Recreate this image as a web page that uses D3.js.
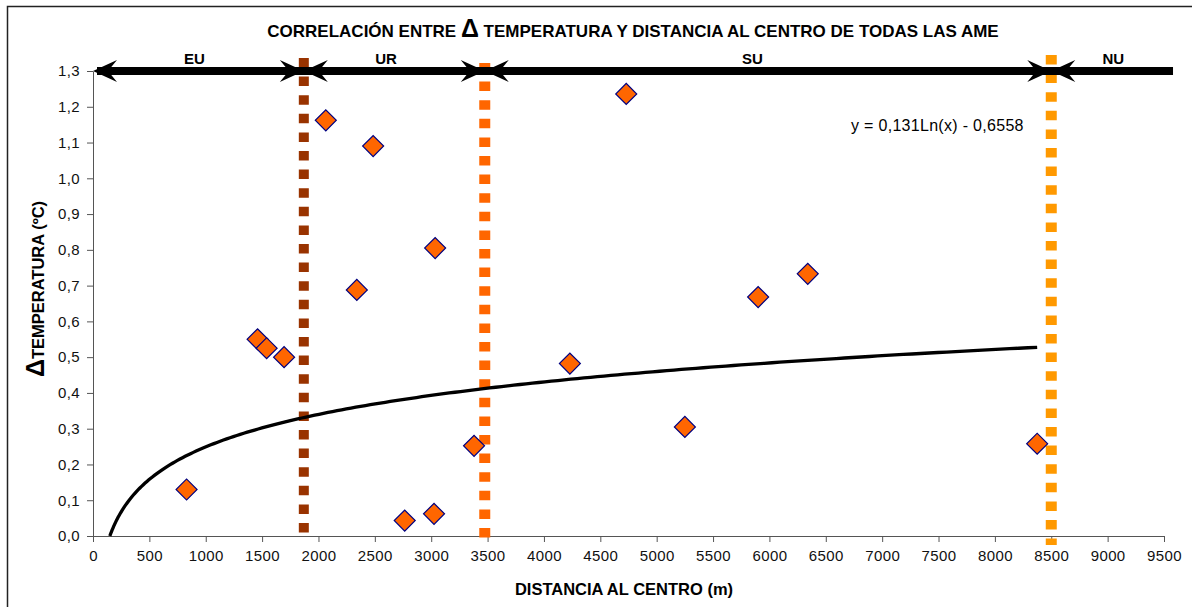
<!DOCTYPE html>
<html>
<head>
<meta charset="utf-8">
<script src="https://cdn.jsdelivr.net/npm/d3@7"></script>
<style>
  body { margin: 0; background: #fff; }
  svg { display: block; font-family: "Liberation Sans", Arial, sans-serif; }
</style>
</head>
<body>
<svg id="chart" width="1192" height="607"></svg>
<script>
// Distance to centre (m) and temperature difference (ºC) for each station
const distancia = [830, 1460, 1540, 1695, 2065, 2340, 2485, 2765, 3025, 3035, 3380, 4230, 4730, 5250, 5900, 6340, 8375];
const deltaTemp = [0.13, 0.55, 0.525, 0.50, 1.162, 0.688, 1.09, 0.043, 0.062, 0.805, 0.252, 0.482, 1.236, 0.305, 0.668, 0.733, 0.258];

// Logarithmic trend line coefficients: y = a·ln(x) + b
const trendA = 0.131;
const trendB = -0.6558;
const trendLabel = "y = 0,131Ln(x) - 0,6558";

// Zone limits (m) and their divider colours
const limites = [1870, 3475, 8500];
const limiteColores = ["#993300", "#FF6600", "#FF9900"];
const zonaBordes = [0, 1870, 3475, 8500, 9580];
const zonas = ["EU", "UR", "SU", "NU"];
const zonaEtiquetaX = [900, 2600, 5850, 9050];

const xTicks = d3.range(0, 9501, 500);
const yTicks = d3.range(0, 1.3001, 0.1);

const svg = d3.select("#chart");
const m = { left: 93, right: 1164, top: 71, bottom: 536 };

const x = d3.scaleLinear().domain([0, 9500]).range([m.left, m.right]);
const y = d3.scaleLinear().domain([0, 1.3]).range([m.bottom, m.top]);

// outer frame
svg.append("rect").attr("x", 7.5).attr("y", 6.5).attr("width", 1200).attr("height", 620)
  .attr("fill", "none").attr("stroke", "#222").attr("stroke-width", 1.5);

const fmt = d => d3.format(".1f")(d).replace(".", ",");

// Y axis
const yAxis = svg.append("g").attr("transform", `translate(${m.left},0)`)
  .call(d3.axisLeft(y).tickValues(yTicks).tickFormat(fmt).tickSize(6).tickSizeOuter(0).tickPadding(7));
// X axis
const xAxis = svg.append("g").attr("transform", `translate(0,${m.bottom})`)
  .call(d3.axisBottom(x).tickValues(xTicks).tickFormat(d3.format("d")).tickSize(6).tickSizeOuter(0).tickPadding(8));
[yAxis, xAxis].forEach(g => {
  g.selectAll("path").attr("stroke", "#555");
  g.selectAll("line").attr("stroke", "#555");
  g.selectAll("text").attr("font-size", 15).attr("letter-spacing", 0.4).attr("fill", "#111")
    .attr("font-family", "'Liberation Sans', Arial, sans-serif");
});

// vertical zone dividers: [top pixel offset above 1,3 ; bottom pixel offset below 0,0]
const divExt = [[13, -1], [8, 5], [16, 9]];
const divs = svg.append("g");
limites.forEach((v, i) => {
  divs.append("line")
    .attr("x1", x(v)).attr("x2", x(v))
    .attr("y1", y(1.3) - divExt[i][0]).attr("y2", y(0) + divExt[i][1])
    .attr("stroke", limiteColores[i])
    .attr("stroke-width", i === 0 ? 10 : 11)
    .attr("stroke-dasharray", "9.5,9.1");
});

// trend line
const xMin = Math.exp(-trendB / trendA);
const xMax = d3.max(distancia);
const trendPts = d3.range(0, 201).map(i => {
  const xv = xMin + (xMax - xMin) * Math.pow(i / 200, 2);
  return [xv, trendA * Math.log(xv) + trendB];
});
svg.append("path")
  .datum(trendPts)
  .attr("fill", "none").attr("stroke", "#000").attr("stroke-width", 3.3)
  .attr("d", d3.line().x(d => x(d[0])).y(d => y(Math.max(0, d[1]))));

// data points as diamonds
svg.append("g").selectAll("path")
  .data(distancia.map((d, i) => [d, deltaTemp[i]]))
  .join("path")
  .attr("d", d3.symbol().type(d3.symbolSquare).size(220))
  .attr("transform", d => `translate(${x(d[0])},${y(d[1])}) rotate(45)`)
  .attr("fill", "#FF6600").attr("stroke", "#000080").attr("stroke-width", 1.2);

// zone arrows along the top
const ay = y(1.3);
const arrows = svg.append("g");
arrows.append("line")
  .attr("x1", x(zonaBordes[0]) + 4).attr("x2", x(zonaBordes[4]))
  .attr("y1", ay).attr("y2", ay)
  .attr("stroke", "#000").attr("stroke-width", 8);
function head(tipX, dir) {
  const L = 24, H = 11, notch = 15;
  const p = d3.path();
  p.moveTo(tipX, ay);
  p.lineTo(tipX + dir * L, ay - H);
  p.lineTo(tipX + dir * notch, ay);
  p.lineTo(tipX + dir * L, ay + H);
  p.closePath();
  arrows.append("path").attr("d", p.toString()).attr("fill", "#000");
}
for (let i = 0; i < zonaBordes.length - 1; i++) {
  head(x(zonaBordes[i]), 1);
  if (i < zonaBordes.length - 2) head(x(zonaBordes[i + 1]), -1);
}
arrows.selectAll("text").data(zonas).join("text")
  .attr("x", (d, i) => x(zonaEtiquetaX[i])).attr("y", 64)
  .attr("text-anchor", "middle").attr("font-weight", "bold").attr("font-size", 15)
  .text(d => d);

// trend equation
svg.append("text").attr("x", 851).attr("y", 131).attr("font-size", 16).attr("letter-spacing", 0.3)
  .text(trendLabel);

// title
const title = svg.append("text").attr("x", 633).attr("y", 37)
  .attr("text-anchor", "middle").attr("font-weight", "bold").attr("font-size", 17);
title.append("tspan").text("CORRELACIÓN ENTRE ");
title.append("tspan").attr("font-size", 25).text("Δ");
title.append("tspan").text(" TEMPERATURA Y DISTANCIA AL CENTRO DE TODAS LAS AME");

// axis titles
svg.append("text").attr("x", 624).attr("y", 595)
  .attr("text-anchor", "middle").attr("font-weight", "bold").attr("font-size", 16.5)
  .text("DISTANCIA AL CENTRO (m)");
const yt = svg.append("text")
  .attr("transform", "translate(44,289) rotate(-90)")
  .attr("text-anchor", "middle").attr("font-weight", "bold").attr("font-size", 16.5);
yt.append("tspan").attr("font-size", 25).text("Δ");
yt.append("tspan").text("TEMPERATURA (ºC)");
</script>
</body>
</html>
